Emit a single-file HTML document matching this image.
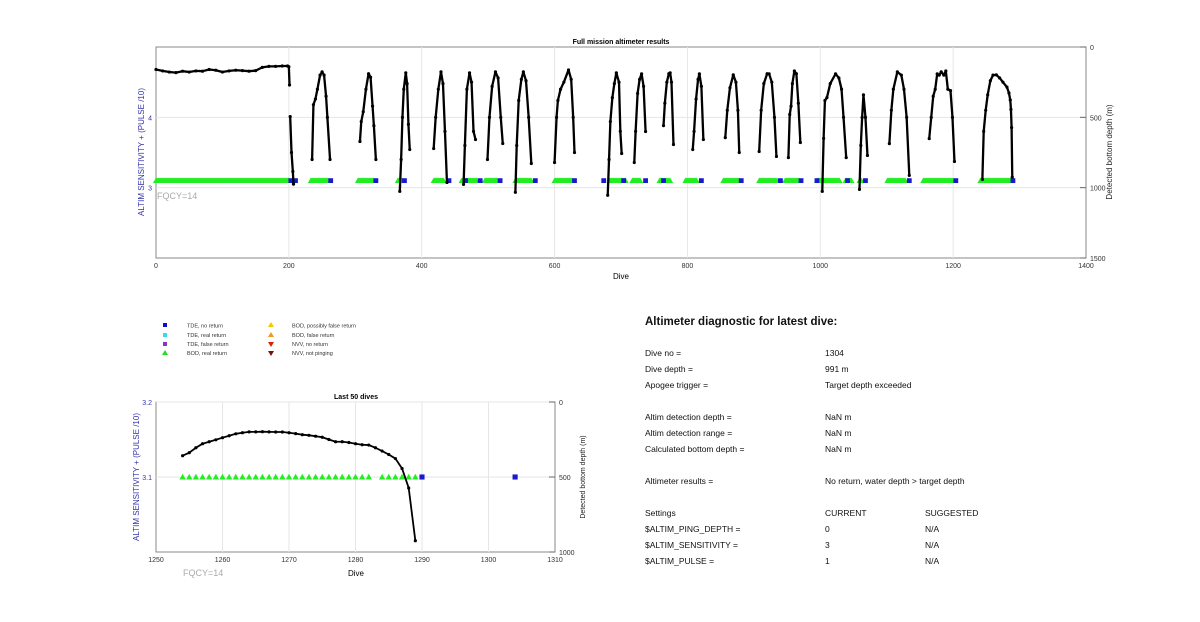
<!DOCTYPE html>
<html><head><meta charset="utf-8">
<style>
body{margin:0;background:#fff;width:1200px;height:622px;overflow:hidden;font-family:"Liberation Sans",sans-serif}
svg{position:absolute;left:0;top:0}
text{font-family:"Liberation Sans",sans-serif}
</style></head>
<body>
<svg id="svg" width="1200" height="622" viewBox="0 0 1200 622">
<g>
<rect x="156" y="47" width="930" height="211" fill="#fff" stroke="#888" stroke-width="1"/>
<g id="topGrid"></g>
<g id="topTicks"></g>
<text x="621" y="44" font-size="7" font-weight="bold" text-anchor="middle">Full mission altimeter results</text>
<text x="621" y="279" font-size="8" text-anchor="middle">Dive</text>
<text transform="translate(144,152) rotate(-90)" font-size="8" fill="#3333aa" text-anchor="middle">ALTIM SENSITIVITY + (PULSE /10)</text>
<text transform="translate(1112,152) rotate(-90)" font-size="8" fill="#222" text-anchor="middle">Detected bottom depth (m)</text>
<text x="157" y="199" font-size="9" fill="#aaa">FQCY=14</text>
<g id="topMarks"></g>
</g>
<g font-size="5.5" fill="#333">
<rect x="163" y="323" width="4" height="4" fill="#1010c0"/>
<text x="187" y="327.5">TDE, no return</text>
<rect x="163" y="333" width="4" height="4" fill="#33ddee"/>
<text x="187" y="337">TDE, real return</text>
<rect x="163" y="342" width="4" height="4" fill="#8833cc"/>
<text x="187" y="346">TDE, false return</text>
<polygon points="165,350 162,355 168,355" fill="#22dd22"/>
<text x="187" y="355">BOD, real return</text>
<polygon points="271,322 268,327 274,327" fill="#eecc00"/>
<text x="292" y="327.5">BOD, possibly false return</text>
<polygon points="271,332 268,337 274,337" fill="#ee9922"/>
<text x="292" y="337">BOD, false return</text>
<polygon points="268,342 274,342 271,347" fill="#dd2200"/>
<text x="292" y="346">NVV, no return</text>
<polygon points="268,351 274,351 271,356" fill="#771111"/>
<text x="292" y="355">NVV, not pinging</text>
</g>
<g>
<rect x="156" y="402" width="399" height="150" fill="#fff" stroke="#888" stroke-width="1"/>
<g id="botGrid"></g>
<g id="botTicks"></g>
<text x="356" y="399" font-size="7" font-weight="bold" text-anchor="middle">Last 50 dives</text>
<text x="356" y="576" font-size="8" text-anchor="middle">Dive</text>
<text transform="translate(139,477) rotate(-90)" font-size="8" fill="#3333aa" text-anchor="middle">ALTIM SENSITIVITY + (PULSE /10)</text>
<text transform="translate(585,477) rotate(-90)" font-size="7" fill="#222" text-anchor="middle">Detected bottom depth (m)</text>
<text x="183" y="576" font-size="9" fill="#aaa">FQCY=14</text>
<g id="botMarks"></g>
</g>
<g font-size="8.5" fill="#111">
<text x="645" y="325" font-size="11.5" font-weight="bold">Altimeter diagnostic for latest dive:</text>
<text x="645" y="356">Dive no =</text><text x="825" y="356">1304</text>
<text x="645" y="372">Dive depth =</text><text x="825" y="372">991 m</text>
<text x="645" y="388">Apogee trigger =</text><text x="825" y="388">Target depth exceeded</text>
<text x="645" y="420">Altim detection depth =</text><text x="825" y="420">NaN m</text>
<text x="645" y="436">Altim detection range =</text><text x="825" y="436">NaN m</text>
<text x="645" y="452">Calculated bottom depth =</text><text x="825" y="452">NaN m</text>
<text x="645" y="484">Altimeter results =</text><text x="825" y="484">No return, water depth &gt; target depth</text>
<text x="645" y="516">Settings</text><text x="825" y="516">CURRENT</text><text x="925" y="516">SUGGESTED</text>
<text x="645" y="532">$ALTIM_PING_DEPTH =</text><text x="825" y="532">0</text><text x="925" y="532">N/A</text>
<text x="645" y="548">$ALTIM_SENSITIVITY =</text><text x="825" y="548">3</text><text x="925" y="548">N/A</text>
<text x="645" y="564">$ALTIM_PULSE =</text><text x="825" y="564">1</text><text x="925" y="564">N/A</text>
</g>
</svg>
<script>
const topXTicks = [0,200,400,600,800,1000,1200,1400];
const topLeftTicks = [3,4];
const topRightTicks = [0,500,1000,1500];
const depthSegments = [
 [[0,160],[10,170],[20,178],[30,182],[40,172],[50,178],[60,170],[70,172],[80,160],[90,165],[100,178],[110,170],[120,165],[130,168],[140,172],[150,168],[160,145],[170,138],[180,138],[190,135],[198,135],[200,140],[201,270]],
 [[202,495],[204,750],[206,885],[207,975]],
 [[235,800],[237,410],[240,370],[243,300],[247,200],[250,177],[253,200],[256,350],[258,500],[262,800]],
 [[307,672],[309,530],[312,460],[316,300],[320,190],[323,215],[326,420],[328,560],[331,800]],
 [[367,1026],[369,800],[371,500],[373,300],[376,184],[378,260],[380,550],[382,729]],
 [[418,722],[421,500],[425,300],[429,177],[432,260],[435,600],[438,963]],
 [[463,977],[465,700],[468,300],[472,184],[475,250],[478,600],[481,658]],
 [[499,800],[502,500],[506,280],[511,177],[515,220],[519,500],[522,686]],
 [[541,1033],[543,700],[546,380],[550,230],[553,177],[557,240],[561,500],[565,828]],
 [[600,821],[603,500],[605,380],[609,300],[614,250],[621,163],[625,230],[628,500],[630,750]],
 [[680,1054],[682,800],[684,530],[687,360],[690,260],[693,184],[697,250],[699,600],[701,757]],
 [[720,821],[722,600],[725,330],[728,230],[731,191],[734,280],[737,601]],
 [[764,559],[766,400],[769,250],[772,190],[774,184],[776,250],[779,693]],
 [[808,729],[810,600],[813,370],[816,230],[818,191],[821,280],[824,658]],
 [[857,644],[860,450],[864,290],[869,198],[873,250],[876,450],[878,750]],
 [[908,743],[911,450],[915,260],[920,190],[923,191],[927,250],[931,500],[934,778]],
 [[952,786],[954,480],[956,420],[958,260],[961,170],[964,190],[967,400],[970,679]],
 [[1003,1026],[1005,650],[1007,380],[1010,360],[1015,260],[1023,191],[1028,220],[1032,300],[1035,500],[1039,786]],
 [[1059,1012],[1061,700],[1063,500],[1065,340],[1068,500],[1071,771]],
 [[1104,687],[1107,450],[1110,300],[1116,177],[1122,200],[1126,300],[1130,500],[1134,913]],
 [[1164,651],[1167,500],[1170,350],[1173,300],[1176,191],[1179,200],[1182,177],[1186,200],[1189,170],[1192,300],[1196,310],[1199,500],[1202,814]],
 [[1244,941],[1246,600],[1249,450],[1252,340],[1256,240],[1260,200],[1265,198],[1270,220],[1275,250],[1281,285],[1284,327],[1286,377],[1287,443],[1288,573],[1289,925]]
];
const realReturnRanges = [[0,200],[233,259],[304,328],[364,371],[418,433],[460,483],[495,514],[541,565],[600,627],[683,707],[717,729],[758,774],[797,814],[854,878],[908,935],[947,968],[995,1029],[1038,1047],[1059,1062],[1101,1128],[1155,1200],[1241,1287]];
const noReturnDives = [203,210,263,331,374,441,466,488,518,571,630,674,704,737,764,821,881,940,971,995,1041,1068,1134,1204,1290];
const sensitivityValue = 3.1;
const botXTicks = [1250,1260,1270,1280,1290,1300,1310];
const botLeftTicks = [3.1,3.2];
const botRightTicks = [0,500,1000];
const lastDives = [1254,1255,1256,1257,1258,1259,1260,1261,1262,1263,1264,1265,1266,1267,1268,1269,1270,1271,1272,1273,1274,1275,1276,1277,1278,1279,1280,1281,1282,1283,1284,1285,1286,1287,1288,1289];
const lastDepths = [358,338,305,278,265,252,238,225,212,205,199,199,198,199,200,200,205,211,218,222,228,235,250,265,265,270,278,285,287,305,327,350,377,443,573,925];
const lastRealReturn = [1254,1255,1256,1257,1258,1259,1260,1261,1262,1263,1264,1265,1266,1267,1268,1269,1270,1271,1272,1273,1274,1275,1276,1277,1278,1279,1280,1281,1282,1284,1285,1286,1287,1288,1289];
const lastNoReturn = [1290,1304];

const NS='http://www.w3.org/2000/svg';
function mk(parent,tag,attrs){const e=document.createElementNS(NS,tag);for(const k in attrs)e.setAttribute(k,attrs[k]);parent.appendChild(e);return e;}

function drawChart(o){
 const {L,R,T,B,xMin,xMax,yMin,yMax,dMax,grid,ticks,marks,xTicks,leftTicks,rightTicks,fs,leftFmt,tri,sq} = o;
 const X=v=>L+(v-xMin)/(xMax-xMin)*(R-L);
 const Y=v=>B-(v-yMin)/(yMax-yMin)*(B-T);
 const D=v=>T+v/dMax*(B-T);
 xTicks.forEach(t=>{
  if(t>xMin&&t<xMax){const g=mk(grid,'line',{x1:X(t),x2:X(t),y1:T,y2:B,stroke:'#e6e6e6','stroke-width':1});
  
  }
  const tl=mk(ticks,'text',{x:X(t),y:B+10,'font-size':fs,'text-anchor':'middle',fill:'#333'});tl.textContent=t;
  
  
 });
 leftTicks.forEach(t=>{
  const g=mk(grid,'line',{x1:L,x2:R,y1:Y(t),y2:Y(t),stroke:'#e6e6e6','stroke-width':1});
  
  
  const tl=mk(ticks,'text',{x:L-4,y:Y(t)+3,'font-size':fs,'text-anchor':'end',fill:'#3333aa'});tl.textContent=leftFmt(t);
  
  
 });
 rightTicks.forEach(t=>{
  mk(ticks,'line',{x1:R-6,x2:R,y1:D(t),y2:D(t),stroke:'#666','stroke-width':1});
  const tl=mk(ticks,'text',{x:R+4,y:D(t)+3,'font-size':fs,fill:'#333'});tl.textContent=t;
  
  
 });
 tri.forEach(dv=>{
  const x=X(dv),y=Y(sensitivityValue);
  const p=mk(marks,'polygon',{points:`${x},${y-o.ms} ${x-o.ms},${y+o.ms*0.8} ${x+o.ms},${y+o.ms*0.8}`,fill:'#22ee22'});
  
  
 });
 sq.forEach(dv=>{
  const x=X(dv),y=Y(sensitivityValue);
  const r=mk(marks,'rect',{x:x-o.ms*0.8,y:y-o.ms*0.8,width:o.ms*1.6,height:o.ms*1.6,fill:'#1a1acc'});
  
  
 });
 o.segs.forEach(seg=>{
  const pl=mk(marks,'polyline',{points:seg.map(p=>X(p[0])+','+D(p[1])).join(' '),fill:'none',stroke:'#000','stroke-width':o.lw,'stroke-linejoin':'round'});
  
  
  seg.forEach(p=>{
   const c=mk(marks,'circle',{cx:X(p[0]),cy:D(p[1]),r:o.pr,fill:'#000'});
   
   
  });
 });
}

const topTri=[];
realReturnRanges.forEach(r=>{for(let d=r[0];d<=r[1];d++)topTri.push(d);});
drawChart({L:156,R:1086,T:47,B:258,xMin:0,xMax:1400,yMin:2,yMax:5,dMax:1500,
 grid:document.getElementById('topGrid'),ticks:document.getElementById('topTicks'),marks:document.getElementById('topMarks'),
 xTicks:topXTicks,leftTicks:topLeftTicks,rightTicks:topRightTicks,fs:7,leftFmt:t=>t,
 tri:topTri,sq:noReturnDives,segs:depthSegments,ms:3,lw:2.3,pr:1.6});

drawChart({L:156,R:555,T:402,B:552,xMin:1250,xMax:1310,yMin:3.0,yMax:3.2,dMax:1000,
 grid:document.getElementById('botGrid'),ticks:document.getElementById('botTicks'),marks:document.getElementById('botMarks'),
 xTicks:botXTicks,leftTicks:botLeftTicks,rightTicks:botRightTicks,fs:7,leftFmt:t=>t.toFixed(1),
 tri:lastRealReturn,sq:lastNoReturn,segs:[lastDives.map((d,i)=>[d,lastDepths[i]])],ms:3.2,lw:1.8,pr:1.6});
</script>
</body></html>
